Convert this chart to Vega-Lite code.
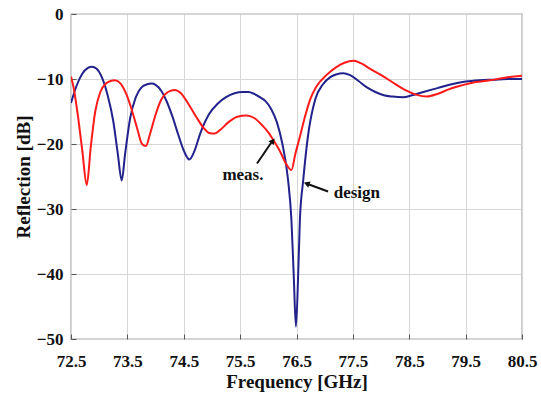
{
  "$schema": "https://vega.github.io/schema/vega-lite/v6.json",
  "width": 451,
  "height": 325,
  "autosize": {"type": "none"},
  "padding": {"left": 71, "top": 14, "right": 19, "bottom": 57},
  "background": "white",
  "config": {
    "view": {"stroke": "#555555", "strokeWidth": 1.2},
    "font": "Liberation Serif",
    "axis": {
      "labelFont": "Liberation Serif",
      "labelFontWeight": "bold",
      "labelFontSize": 17,
      "labelColor": "#111111",
      "labelFlush": false,
      "labelOverlap": false,
      "titleFont": "Liberation Serif",
      "titleFontWeight": "bold",
      "titleFontSize": 19,
      "titleColor": "#111111",
      "gridColor": "#d6d6d6",
      "gridWidth": 1,
      "domain": false,
      "tickColor": "#555555",
      "tickSize": -5
    }
  },
  "datasets": {
    "curves": [
      {"f": 72.50, "r": -13.7, "s": "design"},
      {"f": 72.60, "r": -11.0, "s": "design"},
      {"f": 72.70, "r": -9.2, "s": "design"},
      {"f": 72.80, "r": -8.3, "s": "design"},
      {"f": 72.87, "r": -8.1, "s": "design"},
      {"f": 72.95, "r": -8.4, "s": "design"},
      {"f": 73.05, "r": -9.8, "s": "design"},
      {"f": 73.15, "r": -12.5, "s": "design"},
      {"f": 73.25, "r": -16.5, "s": "design"},
      {"f": 73.33, "r": -21.5, "s": "design"},
      {"f": 73.40, "r": -25.6, "s": "design"},
      {"f": 73.46, "r": -21.5, "s": "design"},
      {"f": 73.55, "r": -16.0, "s": "design"},
      {"f": 73.65, "r": -12.8, "s": "design"},
      {"f": 73.75, "r": -11.3, "s": "design"},
      {"f": 73.85, "r": -10.8, "s": "design"},
      {"f": 73.93, "r": -10.7, "s": "design"},
      {"f": 74.00, "r": -10.9, "s": "design"},
      {"f": 74.10, "r": -11.8, "s": "design"},
      {"f": 74.20, "r": -13.5, "s": "design"},
      {"f": 74.30, "r": -15.8, "s": "design"},
      {"f": 74.40, "r": -18.5, "s": "design"},
      {"f": 74.50, "r": -21.0, "s": "design"},
      {"f": 74.60, "r": -22.4, "s": "design"},
      {"f": 74.68, "r": -21.3, "s": "design"},
      {"f": 74.80, "r": -18.2, "s": "design"},
      {"f": 74.95, "r": -15.4, "s": "design"},
      {"f": 75.10, "r": -13.8, "s": "design"},
      {"f": 75.25, "r": -12.8, "s": "design"},
      {"f": 75.40, "r": -12.2, "s": "design"},
      {"f": 75.55, "r": -12.0, "s": "design"},
      {"f": 75.65, "r": -12.0, "s": "design"},
      {"f": 75.75, "r": -12.3, "s": "design"},
      {"f": 75.85, "r": -12.8, "s": "design"},
      {"f": 75.95, "r": -13.4, "s": "design"},
      {"f": 76.05, "r": -14.6, "s": "design"},
      {"f": 76.15, "r": -16.6, "s": "design"},
      {"f": 76.25, "r": -20.0, "s": "design"},
      {"f": 76.35, "r": -25.5, "s": "design"},
      {"f": 76.41, "r": -31.7, "s": "design"},
      {"f": 76.45, "r": -40.0, "s": "design"},
      {"f": 76.49, "r": -48.1, "s": "design"},
      {"f": 76.53, "r": -40.0, "s": "design"},
      {"f": 76.56, "r": -31.7, "s": "design"},
      {"f": 76.62, "r": -25.5, "s": "design"},
      {"f": 76.70, "r": -19.0, "s": "design"},
      {"f": 76.83, "r": -13.2, "s": "design"},
      {"f": 76.97, "r": -10.8, "s": "design"},
      {"f": 77.10, "r": -9.7, "s": "design"},
      {"f": 77.20, "r": -9.3, "s": "design"},
      {"f": 77.33, "r": -9.1, "s": "design"},
      {"f": 77.45, "r": -9.4, "s": "design"},
      {"f": 77.60, "r": -10.3, "s": "design"},
      {"f": 77.75, "r": -11.3, "s": "design"},
      {"f": 77.90, "r": -12.0, "s": "design"},
      {"f": 78.05, "r": -12.5, "s": "design"},
      {"f": 78.20, "r": -12.7, "s": "design"},
      {"f": 78.39, "r": -12.8, "s": "design"},
      {"f": 78.55, "r": -12.5, "s": "design"},
      {"f": 78.75, "r": -12.0, "s": "design"},
      {"f": 79.00, "r": -11.4, "s": "design"},
      {"f": 79.25, "r": -10.8, "s": "design"},
      {"f": 79.50, "r": -10.4, "s": "design"},
      {"f": 79.75, "r": -10.2, "s": "design"},
      {"f": 80.00, "r": -10.1, "s": "design"},
      {"f": 80.25, "r": -10.0, "s": "design"},
      {"f": 80.50, "r": -10.0, "s": "design"},
      {"f": 72.50, "r": -9.6, "s": "meas."},
      {"f": 72.55, "r": -11.5, "s": "meas."},
      {"f": 72.62, "r": -15.5, "s": "meas."},
      {"f": 72.70, "r": -21.0, "s": "meas."},
      {"f": 72.78, "r": -26.3, "s": "meas."},
      {"f": 72.85, "r": -20.5, "s": "meas."},
      {"f": 72.93, "r": -15.0, "s": "meas."},
      {"f": 73.02, "r": -12.0, "s": "meas."},
      {"f": 73.12, "r": -10.7, "s": "meas."},
      {"f": 73.20, "r": -10.3, "s": "meas."},
      {"f": 73.28, "r": -10.2, "s": "meas."},
      {"f": 73.38, "r": -10.7, "s": "meas."},
      {"f": 73.48, "r": -12.3, "s": "meas."},
      {"f": 73.58, "r": -14.8, "s": "meas."},
      {"f": 73.68, "r": -17.8, "s": "meas."},
      {"f": 73.76, "r": -20.0, "s": "meas."},
      {"f": 73.83, "r": -20.3, "s": "meas."},
      {"f": 73.90, "r": -18.5, "s": "meas."},
      {"f": 74.00, "r": -15.5, "s": "meas."},
      {"f": 74.10, "r": -13.2, "s": "meas."},
      {"f": 74.22, "r": -12.0, "s": "meas."},
      {"f": 74.34, "r": -11.7, "s": "meas."},
      {"f": 74.45, "r": -12.2, "s": "meas."},
      {"f": 74.58, "r": -13.8, "s": "meas."},
      {"f": 74.72, "r": -15.8, "s": "meas."},
      {"f": 74.85, "r": -17.5, "s": "meas."},
      {"f": 74.95, "r": -18.3, "s": "meas."},
      {"f": 75.05, "r": -18.4, "s": "meas."},
      {"f": 75.15, "r": -17.8, "s": "meas."},
      {"f": 75.30, "r": -16.6, "s": "meas."},
      {"f": 75.45, "r": -15.8, "s": "meas."},
      {"f": 75.61, "r": -15.6, "s": "meas."},
      {"f": 75.75, "r": -16.0, "s": "meas."},
      {"f": 75.90, "r": -17.2, "s": "meas."},
      {"f": 76.00, "r": -18.2, "s": "meas."},
      {"f": 76.09, "r": -19.4, "s": "meas."},
      {"f": 76.20, "r": -21.0, "s": "meas."},
      {"f": 76.30, "r": -22.8, "s": "meas."},
      {"f": 76.41, "r": -24.0, "s": "meas."},
      {"f": 76.48, "r": -21.5, "s": "meas."},
      {"f": 76.56, "r": -18.9, "s": "meas."},
      {"f": 76.65, "r": -15.8, "s": "meas."},
      {"f": 76.74, "r": -13.2, "s": "meas."},
      {"f": 76.85, "r": -11.2, "s": "meas."},
      {"f": 77.03, "r": -9.4, "s": "meas."},
      {"f": 77.20, "r": -8.2, "s": "meas."},
      {"f": 77.35, "r": -7.5, "s": "meas."},
      {"f": 77.51, "r": -7.2, "s": "meas."},
      {"f": 77.65, "r": -7.6, "s": "meas."},
      {"f": 77.80, "r": -8.4, "s": "meas."},
      {"f": 78.04, "r": -9.6, "s": "meas."},
      {"f": 78.20, "r": -10.5, "s": "meas."},
      {"f": 78.45, "r": -11.8, "s": "meas."},
      {"f": 78.62, "r": -12.4, "s": "meas."},
      {"f": 78.81, "r": -12.7, "s": "meas."},
      {"f": 79.00, "r": -12.3, "s": "meas."},
      {"f": 79.20, "r": -11.6, "s": "meas."},
      {"f": 79.34, "r": -11.2, "s": "meas."},
      {"f": 79.60, "r": -10.6, "s": "meas."},
      {"f": 79.93, "r": -10.2, "s": "meas."},
      {"f": 80.20, "r": -9.8, "s": "meas."},
      {"f": 80.50, "r": -9.5, "s": "meas."}
    ],
    "labels": [
      {"f": 75.55, "r": -24.8, "t": "meas."},
      {"f": 77.57, "r": -27.6, "t": "design"}
    ],
    "measArrow": [{"f": 75.80, "r": -23.0, "f2": 76.06, "r2": -19.7}],
    "measHead": [{"f": 76.08, "r": -19.5}],
    "designArrow": [{"f": 77.06, "r": -27.3, "f2": 76.71, "r2": -26.2}],
    "designHead": [{"f": 76.68, "r": -26.1}]
  },
  "layer": [
    {
      "data": {"name": "curves"},
      "mark": {"type": "line", "strokeWidth": 2, "interpolate": "monotone", "clip": true},
      "encoding": {
        "x": {
          "field": "f", "type": "quantitative",
          "scale": {"domain": [72.5, 80.5], "nice": false, "zero": false},
          "axis": {
            "title": "Frequency [GHz]",
            "values": [72.5, 73.5, 74.5, 75.5, 76.5, 77.5, 78.5, 79.5, 80.5],
            "format": ".1f",
            "labelPadding": 19,
            "titlePadding": 3
          }
        },
        "y": {
          "field": "r", "type": "quantitative",
          "scale": {"domain": [-50, 0], "nice": false},
          "axis": {
            "title": "Reflection [dB]",
            "values": [-50, -40, -30, -20, -10, 0],
            "format": "d",
            "labelPadding": 13,
            "titlePadding": 3
          }
        },
        "color": {
          "field": "s", "type": "nominal",
          "scale": {"domain": ["design", "meas."], "range": ["#22228c", "#ff1a1a"]},
          "legend": null
        },
        "order": {"field": "f", "type": "quantitative"}
      }
    },
    {
      "data": {"name": "labels"},
      "mark": {"type": "text", "font": "Liberation Serif", "fontWeight": "bold", "fontSize": 17, "color": "#111111"},
      "encoding": {
        "x": {"field": "f", "type": "quantitative"},
        "y": {"field": "r", "type": "quantitative"},
        "text": {"field": "t"}
      }
    },
    {
      "data": {"name": "measArrow"},
      "mark": {"type": "rule", "strokeWidth": 2, "color": "#111111"},
      "encoding": {
        "x": {"field": "f", "type": "quantitative"},
        "y": {"field": "r", "type": "quantitative"},
        "x2": {"field": "f2"},
        "y2": {"field": "r2"}
      }
    },
    {
      "data": {"name": "measHead"},
      "mark": {"type": "point", "shape": "triangle-up", "filled": true, "size": 45, "angle": 36, "color": "#111111", "opacity": 1},
      "encoding": {
        "x": {"field": "f", "type": "quantitative"},
        "y": {"field": "r", "type": "quantitative"}
      }
    },
    {
      "data": {"name": "designArrow"},
      "mark": {"type": "rule", "strokeWidth": 2, "color": "#111111"},
      "encoding": {
        "x": {"field": "f", "type": "quantitative"},
        "y": {"field": "r", "type": "quantitative"},
        "x2": {"field": "f2"},
        "y2": {"field": "r2"}
      }
    },
    {
      "data": {"name": "designHead"},
      "mark": {"type": "point", "shape": "triangle-up", "filled": true, "size": 45, "angle": 291, "color": "#111111", "opacity": 1},
      "encoding": {
        "x": {"field": "f", "type": "quantitative"},
        "y": {"field": "r", "type": "quantitative"}
      }
    }
  ]
}
